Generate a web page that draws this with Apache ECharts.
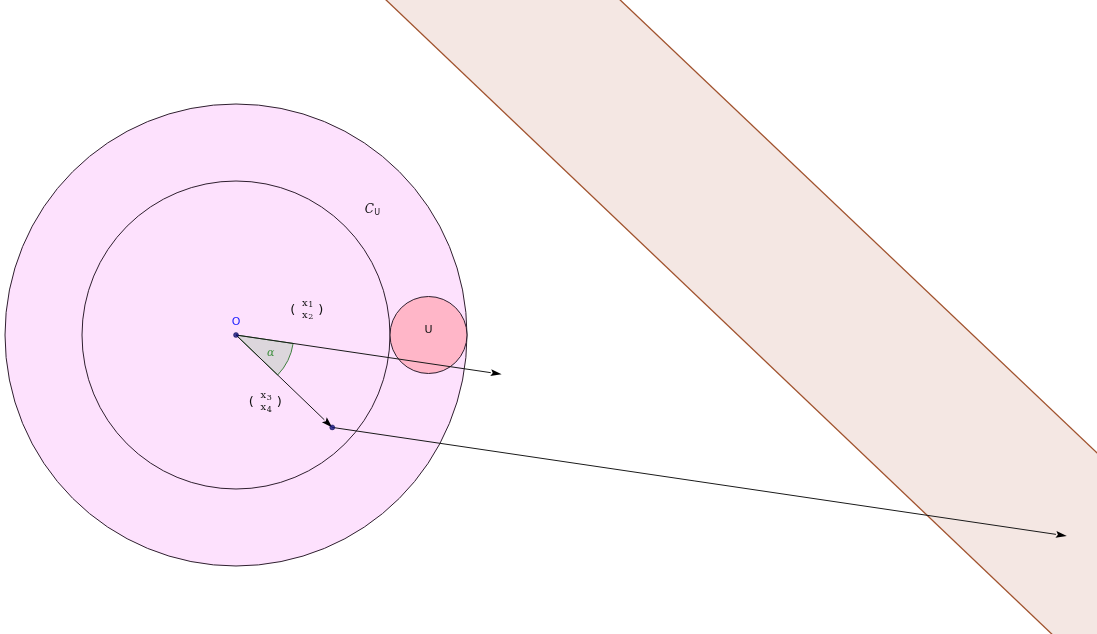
<!DOCTYPE html>
<html>
<head>
<meta charset="utf-8">
<script src="https://cdn.jsdelivr.net/npm/echarts@6/dist/echarts.min.js"></script>
<style>
  html, body { margin: 0; padding: 0; background: #fff; }
  #chart { width: 1097px; height: 634px; }
</style>
</head>
<body>
<div id="chart"></div>
<script>
// figure units: O at (0,0), one unit = 77px
const circleX = [0, 0, 2.5];
const circleY = [0, 0, 0];
const circleR = [3, 2, 0.5];
const circleFill = ['#fde1fd', 'none', '#ffb6c8'];

const vectorStarts = [[0, 0], [0, 0], [1.25, -1.2]];
const vectorEnds = [[3.45, -0.51], [1.25, -1.2], [10.79, -2.61]];

const pointsXY = [[0, 0], [1.25, -1.2]];

const bandLeft = [[1.95, 4.35], [10.57, -3.86]];
const bandRight = [[4.99, 4.35], [11.18, -1.53]];

const angleRadius = 0.75;

const labelText = ['O', '\u03b1', 'C', 'U'];
const labelXY = [[0, 0.17], [0.45, -0.23], [1.77, 1.62], [2.5, 0.06]];

const columnVectors = [[['x', '1'], ['x', '2']], [['x', '3'], ['x', '4']]];
const columnXY = [[0.92, 0.32], [0.38, -0.88]];

const chart = echarts.init(document.getElementById('chart'));
const unit = 77;

function extend(p, q, t) {
    return [p[0] + (q[0] - p[0]) * t, p[1] + (q[1] - p[1]) * t];
}

let option = {
    animation: false,
    grid: { left: 0, right: 0, top: 0, bottom: 0 },
    xAxis: { type: 'value', min: -236 / unit, max: 861 / unit, show: false },
    yAxis: { type: 'value', min: -299 / unit, max: 335 / unit, show: false },
    series: [{
        // band between two parallel lines
        type: 'custom',
        clip: true,
        data: [[0]],
        renderItem: (params, api) => {
            let a = api.coord(extend(bandLeft[0], bandLeft[1], -1));
            let b = api.coord(extend(bandLeft[0], bandLeft[1], 2));
            let c = api.coord(extend(bandRight[0], bandRight[1], 2));
            let d = api.coord(extend(bandRight[0], bandRight[1], -1));
            return {
                type: 'group',
                children: [{
                    type: 'polygon',
                    shape: { points: [a, b, c, d] },
                    style: { fill: '#f4e7e3' }
                }, {
                    type: 'line',
                    shape: { x1: a[0], y1: a[1], x2: b[0], y2: b[1] },
                    style: { stroke: '#a0522d', lineWidth: 1.3 }
                }, {
                    type: 'line',
                    shape: { x1: c[0], y1: c[1], x2: d[0], y2: d[1] },
                    style: { stroke: '#a0522d', lineWidth: 1.3 }
                }]
            };
        }
    }, {
        type: 'custom',
        clip: true,
        data: circleX.map((x, i) => [x, circleY[i], circleR[i], i]),
        renderItem: (params, api) => {
            let i = api.value(3);
            let c = api.coord([api.value(0), api.value(1)]);
            let r = api.size([api.value(2), 0])[0];
            return {
                type: 'circle',
                shape: { cx: c[0], cy: c[1], r: r },
                style: { fill: circleFill[i] === 'none' ? null : circleFill[i], stroke: '#2e1f2e', lineWidth: 1 }
            };
        }
    }, {
        // angle alpha between the two vectors from O
        type: 'custom',
        data: [[0]],
        renderItem: (params, api) => {
            let o = api.coord(vectorStarts[0]);
            let p1 = api.coord(vectorEnds[0]);
            let p2 = api.coord(vectorEnds[1]);
            let r = api.size([angleRadius, 0])[0];
            let a1 = Math.atan2(p1[1] - o[1], p1[0] - o[0]);
            let a2 = Math.atan2(p2[1] - o[1], p2[0] - o[0]);
            return {
                type: 'sector',
                shape: { cx: o[0], cy: o[1], r0: 0, r: r, startAngle: a1, endAngle: a2, clockwise: true },
                style: { fill: '#dcd6dc', stroke: '#3f7f3f', lineWidth: 1 }
            };
        }
    }, {
        type: 'custom',
        data: vectorStarts.map((s, i) => [s[0], s[1], vectorEnds[i][0], vectorEnds[i][1]]),
        renderItem: (params, api) => {
            let s = api.coord([api.value(0), api.value(1)]);
            let e = api.coord([api.value(2), api.value(3)]);
            let ang = Math.atan2(e[1] - s[1], e[0] - s[0]);
            let len = 11, w = 3.5;
            let bx = e[0] - len * Math.cos(ang), by = e[1] - len * Math.sin(ang);
            let nx = -Math.sin(ang) * w, ny = Math.cos(ang) * w;
            return {
                type: 'group',
                children: [{
                    type: 'line',
                    shape: { x1: s[0], y1: s[1], x2: bx, y2: by },
                    style: { stroke: '#1a1a1a', lineWidth: 1 }
                }, {
                    type: 'polygon',
                    shape: { points: [[e[0], e[1]], [bx + nx, by + ny], [bx + 2 * Math.cos(ang), by + 2 * Math.sin(ang)], [bx - nx, by - ny]] },
                    style: { fill: '#000' }
                }]
            };
        }
    }, {
        type: 'scatter',
        data: pointsXY,
        symbolSize: 5,
        itemStyle: { color: '#10107a', borderColor: '#000040', borderWidth: 0.5 },
        silent: true
    }, {
        type: 'custom',
        data: labelXY.map((p, i) => [p[0], p[1], i]),
        renderItem: (params, api) => {
            let i = api.value(2);
            let c = api.coord([api.value(0), api.value(1)]);
            let styles = [
                { fill: '#2020ff', fontSize: 11, fontFamily: 'DejaVu Sans' },
                { fill: '#3f8f3f', fontSize: 11, fontStyle: 'italic', fontFamily: 'DejaVu Serif' },
                { fill: '#111', fontSize: 12, fontStyle: 'italic', fontFamily: 'DejaVu Serif' },
                { fill: '#111', fontSize: 11, fontFamily: 'DejaVu Sans' }
            ];
            if (i === 2) {
                return {
                    type: 'group',
                    children: [{
                        type: 'text', x: c[0] - 3, y: c[1],
                        style: Object.assign({ text: labelText[i], align: 'center', verticalAlign: 'middle' }, styles[i])
                    }, {
                        type: 'text', x: c[0] + 5, y: c[1] + 3,
                        style: { text: 'U', fontSize: 8, fill: '#111', fontFamily: 'DejaVu Sans', align: 'center', verticalAlign: 'middle' }
                    }]
                };
            }
            return {
                type: 'text', x: c[0], y: c[1],
                style: Object.assign({ text: labelText[i], align: 'center', verticalAlign: 'middle' }, styles[i])
            };
        }
    }, {
        type: 'custom',
        data: columnXY.map((p, i) => [p[0], p[1], i]),
        renderItem: (params, api) => {
            let i = api.value(2);
            let c = api.coord([api.value(0), api.value(1)]);
            let base = { fill: '#111', align: 'center', verticalAlign: 'middle' };
            let children = [
                { type: 'text', x: c[0] - 14, y: c[1], style: Object.assign({ text: '(', fontSize: 13, fontFamily: 'DejaVu Sans' }, base) },
                { type: 'text', x: c[0] + 14, y: c[1], style: Object.assign({ text: ')', fontSize: 13, fontFamily: 'DejaVu Sans' }, base) }
            ];
            columnVectors[i].forEach((entry, k) => {
                let y = c[1] + (k === 0 ? -6 : 6);
                children.push({ type: 'text', x: c[0] - 2, y: y - 1, style: Object.assign({ text: entry[0], fontSize: 10, fontFamily: 'DejaVu Serif' }, base) });
                children.push({ type: 'text', x: c[0] + 4, y: y + 1, style: Object.assign({ text: entry[1], fontSize: 8, fontFamily: 'DejaVu Serif' }, base) });
            });
            return { type: 'group', children: children };
        }
    }]
};
chart.setOption(option);
window.addEventListener('resize', () => chart.resize());
</script>
</body>
</html>
